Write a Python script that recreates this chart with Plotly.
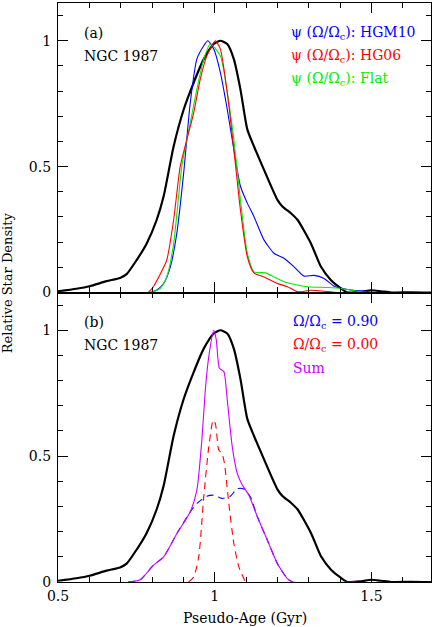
import plotly.graph_objects as go

# ---- data ----
obs_x = [0.50, 0.559, 0.601, 0.655, 0.698, 0.719, 0.751, 0.783, 0.815, 0.837, 0.869, 0.901, 0.933, 0.965,
         0.997, 1.018, 1.040, 1.061, 1.082, 1.104, 1.125, 1.157, 1.200, 1.216, 1.243, 1.264, 1.307, 1.339,
         1.371, 1.403, 1.424, 1.467, 1.499, 1.531, 1.563, 1.627, 1.69]
obs_y = [0.005, 0.015, 0.025, 0.045, 0.058, 0.073, 0.129, 0.195, 0.289, 0.382, 0.581, 0.727, 0.834, 0.927,
         0.987, 1.0, 0.987, 0.927, 0.807, 0.648, 0.581, 0.488, 0.368, 0.342, 0.315, 0.289, 0.195, 0.102,
         0.049, 0.016, 0.0, 0.003, 0.009, 0.005, 0.0, 0.001, 0.0]

hgm10_x = [0.794, 0.815, 0.837, 0.858, 0.879, 0.901, 0.922, 0.943, 0.965, 0.978, 0.997, 1.018, 1.040, 1.061,
           1.082, 1.104, 1.125, 1.157, 1.189, 1.221, 1.253, 1.285, 1.317, 1.349, 1.381, 1.424, 1.488, 1.499]
hgm10_y = [0.0, 0.01, 0.036, 0.10, 0.235, 0.475, 0.754, 0.927, 0.98, 1.0, 0.967, 0.874, 0.727, 0.568,
           0.422, 0.355, 0.302, 0.209, 0.156, 0.136, 0.102, 0.065, 0.068, 0.056, 0.025, 0.012, 0.003, 0.0]

hg06_x = [0.788, 0.804, 0.837, 0.847, 0.869, 0.890, 0.911, 0.933, 0.954, 0.975, 1.002, 1.018, 1.040, 1.061,
          1.082, 1.104, 1.125, 1.157, 1.200, 1.232, 1.264, 1.307, 1.349, 1.381, 1.413]
hg06_y = [0.0, 0.023, 0.10, 0.129, 0.289, 0.501, 0.608, 0.714, 0.848, 0.94, 1.0, 0.967, 0.794, 0.568,
          0.328, 0.142, 0.078, 0.062, 0.036, 0.023, 0.003, 0.009, 0.005, 0.001, 0.0]

flat_x = [0.794, 0.826, 0.847, 0.869, 0.895, 0.922, 0.943, 0.965, 0.986, 1.018, 1.040, 1.061, 1.082, 1.104,
          1.125, 1.162, 1.189, 1.221, 1.253, 1.296, 1.360, 1.403, 1.445, 1.488]
flat_y = [0.0, 0.016, 0.062, 0.195, 0.501, 0.674, 0.807, 0.927, 0.987, 0.94, 0.794, 0.608, 0.368, 0.156,
          0.082, 0.078, 0.062, 0.043, 0.033, 0.023, 0.02, 0.016, 0.007, 0.0]

rot90_x = [0.724, 0.762, 0.804, 0.837, 0.879, 0.922, 0.943, 0.975, 0.997, 1.023, 1.050, 1.072, 1.093, 1.114,
           1.136, 1.168, 1.200, 1.232, 1.248]
rot90_y = [0.0, 0.009, 0.066, 0.10, 0.192, 0.279, 0.312, 0.341, 0.345, 0.332, 0.341, 0.371, 0.369, 0.338,
           0.259, 0.166, 0.073, 0.013, 0.0]

rot00_x = [0.917, 0.933, 0.949, 0.965, 0.981, 0.995, 1.002, 1.013, 1.023, 1.031, 1.045, 1.061, 1.077, 1.098]
rot00_y = [0.0, 0.02, 0.10, 0.338, 0.537, 0.643, 0.63, 0.524, 0.511, 0.471, 0.312, 0.153, 0.06, 0.0]

sum_x = [0.724, 0.762, 0.804, 0.837, 0.879, 0.922, 0.943, 0.959, 0.970, 0.981, 0.997, 1.005, 1.015, 1.029,
         1.040, 1.056, 1.072, 1.088, 1.109, 1.136, 1.168, 1.200, 1.232, 1.248, 1.45]
sum_y = [0.0, 0.009, 0.066, 0.10, 0.192, 0.279, 0.365, 0.565, 0.763, 0.895, 1.0, 0.962, 0.849, 0.836,
         0.723, 0.537, 0.431, 0.385, 0.345, 0.259, 0.166, 0.073, 0.013, 0.0, 0.0]

xticks = [0.5, 1.0, 1.5]
xticklabels = ["0.5", "1", "1.5"]
yticks = [0, 0.5, 1]
yticklabels = ["0", "0.5", "1"]

FONT = "DejaVu Serif"
BLUE, RED, GREEN, PURPLE = "#0000ff", "#ff0000", "#00ee00", "#cc00ff"

fig = go.Figure()
# panel a
fig.add_trace(go.Scatter(x=obs_x, y=obs_y, mode="lines", line=dict(color="black", width=2.2, shape="spline", smoothing=0.6), xaxis="x", yaxis="y"))
fig.add_trace(go.Scatter(x=hgm10_x, y=hgm10_y, mode="lines", line=dict(color=BLUE, width=1.1, shape="spline", smoothing=0.6), xaxis="x", yaxis="y"))
fig.add_trace(go.Scatter(x=flat_x, y=flat_y, mode="lines", line=dict(color=GREEN, width=1.1, shape="spline", smoothing=0.6), xaxis="x", yaxis="y"))
fig.add_trace(go.Scatter(x=hg06_x, y=hg06_y, mode="lines", line=dict(color=RED, width=1.1, shape="spline", smoothing=0.6), xaxis="x", yaxis="y"))
# panel b
fig.add_trace(go.Scatter(x=obs_x, y=obs_y, mode="lines", line=dict(color="black", width=2.2, shape="spline", smoothing=0.6), xaxis="x2", yaxis="y2"))
fig.add_trace(go.Scatter(x=rot90_x, y=rot90_y, mode="lines", line=dict(color=BLUE, width=1.1, dash="7px,5px", shape="spline", smoothing=0.6), xaxis="x2", yaxis="y2"))
fig.add_trace(go.Scatter(x=rot00_x, y=rot00_y, mode="lines", line=dict(color=RED, width=1.1, dash="7px,5px", shape="spline", smoothing=0.6), xaxis="x2", yaxis="y2"))
fig.add_trace(go.Scatter(x=sum_x, y=sum_y, mode="lines", line=dict(color=PURPLE, width=1.1, shape="spline", smoothing=0.6), xaxis="x2", yaxis="y2"))

axcommon = dict(showline=True, linecolor="black", linewidth=1.2, mirror="allticks", ticks="inside",
                ticklen=10, tickcolor="black", tickwidth=1, showgrid=False, zeroline=False,
                tickfont=dict(family=FONT, size=14, color="black"))
xcommon = dict(axcommon, range=[0.5, 1.69], tickvals=xticks, ticktext=xticklabels, ticklabelstandoff=1,
               minor=dict(dtick=0.1, tick0=0.5, ticklen=5, ticks="inside", tickcolor="black", showgrid=False))
ycommon = dict(axcommon, range=[0, 1.15], tickvals=yticks, ticktext=yticklabels, ticklabelstandoff=3,
               minor=dict(dtick=0.1, tick0=0, ticklen=5, ticks="inside", tickcolor="black", showgrid=False))

fig.update_layout(
    width=436, height=627, showlegend=False,
    margin=dict(l=58, r=5, t=3, b=45, autoexpand=False),
    paper_bgcolor="white", plot_bgcolor="white",
    xaxis=dict(xcommon, anchor="y", showticklabels=False),
    yaxis=dict(ycommon, domain=[0.5, 1.0], anchor="x"),
    xaxis2=dict(xcommon, anchor="y2"),
    yaxis2=dict(ycommon, domain=[0.0, 0.5], anchor="x2"),
)

def txt(x, y, s, color="black", xref="x domain", yref="y domain"):
    fig.add_annotation(x=x, y=y, xref=xref, yref=yref, text=s, showarrow=False,
                       xanchor="left", yanchor="middle", font=dict(family=FONT, size=14, color=color))

SP = "\u00a0"
# panel a labels
txt(0.064, 0.897, "(a)")
txt(0.064, 0.818, "NGC" + SP + "1987")
txt(0.62, 0.897, "ψ" + SP + "(Ω/Ω<sub>c</sub>):" + SP + "HGM10", BLUE)
txt(0.62, 0.818, "ψ" + SP + "(Ω/Ω<sub>c</sub>):" + SP + "HG06", RED)
txt(0.62, 0.738, "ψ" + SP + "(Ω/Ω<sub>c</sub>):" + SP + "Flat", GREEN)
# panel b labels
txt(0.064, 0.897, "(b)", xref="x2 domain", yref="y2 domain")
txt(0.064, 0.818, "NGC" + SP + "1987", xref="x2 domain", yref="y2 domain")
txt(0.625, 0.897, "Ω/Ω<sub>c</sub>" + SP + "=" + SP + "0.90", BLUE, "x2 domain", "y2 domain")
txt(0.625, 0.818, "Ω/Ω<sub>c</sub>" + SP + "=" + SP + "0.00", RED, "x2 domain", "y2 domain")
txt(0.625, 0.738, "Sum", PURPLE, "x2 domain", "y2 domain")

fig.add_annotation(x=0, y=0.516, xref="paper", yref="paper", xshift=-51, text="Relative Star Density",
                   textangle=-90, showarrow=False, xanchor="center", yanchor="middle",
                   font=dict(family=FONT, size=13, color="black"))
fig.add_annotation(x=(245 - 58) / 373, y=(582 - 618) / 579, xref="paper", yref="paper",
                   text="Pseudo-Age (Gyr)", showarrow=False, xanchor="center", yanchor="middle",
                   font=dict(family=FONT, size=14, color="black"))

fig.write_html("out.html", config={"displayModeBar": False},
               post_script="document.body.style.margin='0';document.body.style.padding='0';")
